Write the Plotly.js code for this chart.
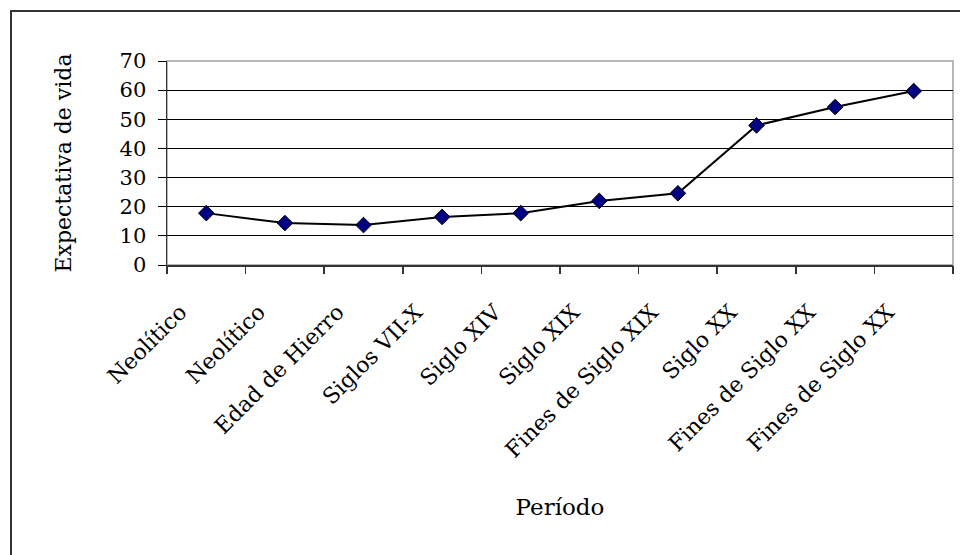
<!DOCTYPE html>
<html>
<head>
<meta charset="utf-8">
<script src="https://cdn.plot.ly/plotly-3.0.1.min.js"></script>
<style>
  html, body { margin: 0; padding: 0; background: #fff; overflow: hidden; }
  #chart { width: 960px; height: 555px; }
</style>
</head>
<body>
<div id="chart"></div>
<script>
// ---- data ----
const categories = ["Neolítico", "Neolítico", "Edad de Hierro", "Siglos VII-X", "Siglo XIV",
                    "Siglo XIX", "Fines de Siglo XIX", "Siglo XX", "Fines de Siglo XX", "Fines de Siglo XX"];
const lifeExpectancy = [17.8, 14.4, 13.7, 16.5, 17.8, 22.0, 24.6, 47.9, 54.2, 59.7];
const yTicks = [0, 10, 20, 30, 40, 50, 60, 70];
const xTitle = "Período";
const yTitle = "Expectativa de vida";

// ---- derived positions (category index) ----
const xIdx = categories.map((_, i) => i);
const boundaries = categories.concat([""]).map((_, i) => i - 0.5);

const FONT = "'DejaVu Serif', serif";

const L = 167, R = 953, T = 61, B = 265, W = 960, H = 555;
const px2x = p => (p - L) / (R - L);
const py2y = p => (B - p) / (B - T);

const trace = {
  x: xIdx,
  y: lifeExpectancy,
  type: "scatter",
  mode: "lines+markers",
  line: { color: "#000000", width: 2 },
  marker: { symbol: "diamond", size: 12, color: "#000080", line: { color: "#000000", width: 1 } },
  hoverinfo: "skip",
  showlegend: false
};

const layout = {
  width: W, height: H,
  margin: { l: L, r: W - R, t: T, b: H - B, pad: 0 },
  paper_bgcolor: "#ffffff",
  plot_bgcolor: "#ffffff",
  font: { family: FONT, size: 21, color: "#000000" },
  showlegend: false,
  xaxis: {
    range: [-0.5, categories.length - 0.5],
    tickmode: "array",
    tickvals: xIdx,
    ticktext: categories,
    tickangle: -45,
    tickfont: { family: FONT, size: 22 },
    ticks: "",
    ticklabelstandoff: 24,
    ticklabelshift: -26,
    showgrid: false,
    zeroline: false,
    showline: true,
    linecolor: "#333333",
    linewidth: 1.5,
    fixedrange: true,
    title: { text: xTitle, font: { family: FONT, size: 23 }, standoff: 37 }
  },
  xaxis2: {
    overlaying: "x",
    anchor: "y",
    side: "bottom",
    range: [-0.5, categories.length - 0.5],
    tickmode: "array",
    tickvals: boundaries,
    showticklabels: false,
    ticks: "outside",
    ticklen: 8,
    tickwidth: 1.5,
    tickcolor: "#333333",
    showgrid: false,
    zeroline: false,
    showline: false,
    fixedrange: true
  },
  yaxis: {
    range: [0, 70],
    tickmode: "array",
    tickvals: yTicks,
    ticks: "outside",
    ticklen: 8,
    tickwidth: 1,
    tickcolor: "#000000",
    ticklabelstandoff: 7,
    showgrid: true,
    gridcolor: "#000000",
    gridwidth: 1,
    zeroline: false,
    showline: true,
    linecolor: "#333333",
    linewidth: 1.5,
    fixedrange: true,
    title: { text: yTitle, font: { family: FONT, size: 22 }, standoff: 42 }
  },
  shapes: [
    { type: "rect", xref: "paper", yref: "paper", x0: 0, x1: 1, y0: 0, y1: 1,
      line: { color: "#a0a0a0", width: 1.5 }, layer: "below" },
    { type: "rect", xref: "paper", yref: "paper",
      x0: px2x(11), x1: px2x(1100), y0: py2y(700), y1: py2y(11),
      line: { color: "#333333", width: 2 }, layer: "above" }
  ]
};

Plotly.newPlot("chart", [trace, Object.assign({}, trace, { xaxis: "x2", opacity: 0, mode: "none" })], layout,
  { staticPlot: true, displayModeBar: false });
</script>
</body>
</html>
